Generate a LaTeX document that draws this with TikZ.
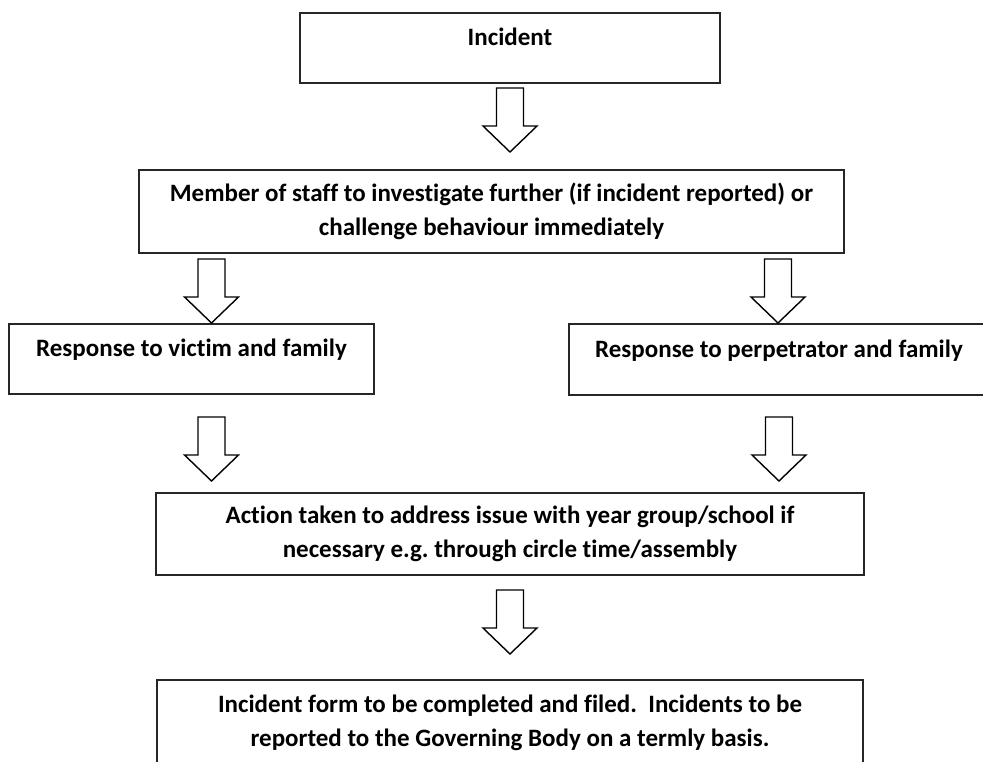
\documentclass[tikz,border=0pt]{standalone}
\usepackage{fontspec}
\setmainfont{Carlito}[Ligatures=NoCommon]
\frenchspacing

\begin{document}
\begin{tikzpicture}[x=1pt, y=-1pt,
  box/.style={draw=black!85, line width=2pt, align=center, inner sep=0pt,
    font=\bfseries\fontsize{25}{34}\selectfont},
  onerow/.style={text depth=22pt},
  blockarrow/.pic={\draw[line width=1.4pt, fill=white] (-13.5,0) -- (13.5,0) -- (13.5,38) -- (27,38) -- (0,64) -- (-27,38) -- (-13.5,38) -- cycle;}]

\clip (0,0) rectangle (983,761);
\fill[white] (0,0) rectangle (983,761);

\node[box, onerow, minimum width=420, minimum height=70, anchor=north] (incident) at (510,12) {Incident};
\node[box, minimum width=705, minimum height=83, anchor=north] (staff) at (491.5,169) {Member of staff to investigate further (if incident reported) or\\challenge behaviour immediately};
\node[box, onerow, minimum width=365, minimum height=70, anchor=north] (victim) at (191.5,323) {Response to victim and family};
\node[box, onerow, minimum width=420, minimum height=71, anchor=north] (perpetrator) at (779,323) {Response to perpetrator and family};
\node[box, minimum width=708, minimum height=82, anchor=north] (action) at (510,492) {Action taken to address issue with year group/school if\\necessary e.g. through circle time/assembly};
\node[box, minimum width=706, minimum height=86, anchor=north] (record) at (510,679) {Incident form to be completed and filed.\ \ Incidents to be\\reported to the Governing Body on a termly basis.};

\pic at (510,88) {blockarrow};
\pic at (211.5,259) {blockarrow};
\pic at (778,259) {blockarrow};
\pic at (211.5,417) {blockarrow};
\pic at (779,417) {blockarrow};
\pic at (510,590) {blockarrow};
\end{tikzpicture}
\end{document}
